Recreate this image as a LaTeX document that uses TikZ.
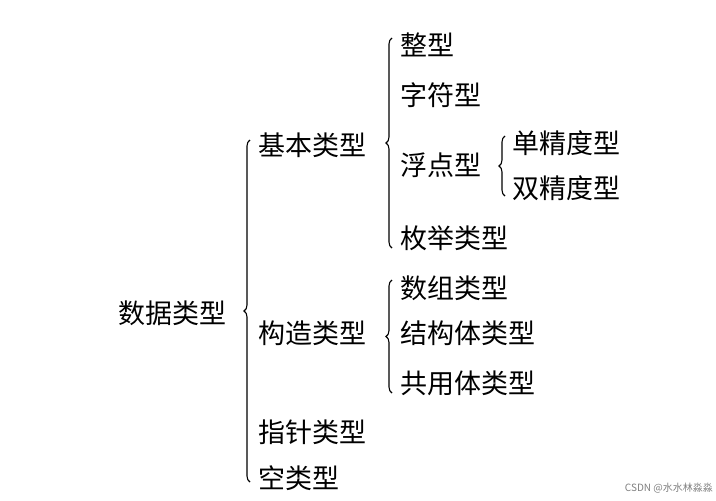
\documentclass[tikz,border=0pt]{standalone}
\usepackage{fontspec}
\setmainfont{Noto Sans CJK SC}
\usetikzlibrary{decorations.pathreplacing}
\begin{document}
\begin{tikzpicture}[x=1pt,y=-1pt,
  lbl/.style={anchor=west,inner sep=0pt,font=\fontsize{27}{29}\selectfont},
  br/.style={decorate,decoration={brace,amplitude=6pt},line width=1.1pt}]
\useasboundingbox (0,0) rectangle (716,501);
\fill[white] (0,0) rectangle (716,501);
\node[lbl] (root) at (118,313) {数据类型};
\node[lbl] (jb) at (258,145) {基本类型};
\node[lbl] (gz) at (258,333) {构造类型};
\node[lbl] (zz) at (258,432) {指针类型};
\node[lbl] (k) at (258,478) {空类型};
\node[lbl] (zx) at (400,45) {整型};
\node[lbl] (zf) at (400,95) {字符型};
\node[lbl] (fd) at (400,165) {浮点型};
\node[lbl] (mj) at (400,238) {枚举类型};
\node[lbl] (dj) at (512,143) {单精度型};
\node[lbl] (sj) at (512,188) {双精度型};
\node[lbl] (sz) at (400,288) {数组类型};
\node[lbl] (jg) at (400,333) {结构体类型};
\node[lbl] (gy) at (400,383) {共用体类型};
\node[anchor=east,inner sep=0pt,text=gray,font=\fontsize{10}{11}\selectfont] (wm) at (713,488) {CSDN @水水林淼淼};
\coordinate (b1t) at (250,140);
\coordinate (b1b) at (250,482);
\draw[br] (b1b) -- (b1t);
\draw[br] (392,248) -- (392,38);
\draw[br] (505,196) -- (505,136);
\draw[br] (392,393) -- (392,280);
\end{tikzpicture}
\end{document}
